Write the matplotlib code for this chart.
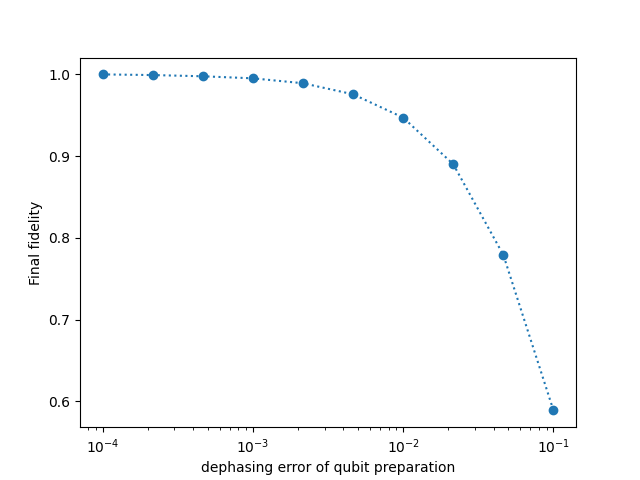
import matplotlib
matplotlib.use("Agg")
import matplotlib.pyplot as plt

dephasing_error = [1e-4, 2.154e-4, 4.642e-4, 1e-3, 2.154e-3, 4.642e-3, 1e-2, 2.154e-2, 4.642e-2, 1e-1]
final_fidelity = [0.9998, 0.999, 0.9975, 0.995, 0.989, 0.9755, 0.947, 0.890, 0.779, 0.589]

fig, ax = plt.subplots(figsize=(6.4, 4.8), dpi=100)
ax.plot(dephasing_error, final_fidelity, 'o:', color='#1f77b4')
ax.set_xscale('log')
ax.set_xlabel('dephasing error of qubit preparation')
ax.set_ylabel('Final fidelity')
fig.savefig('out.png')
